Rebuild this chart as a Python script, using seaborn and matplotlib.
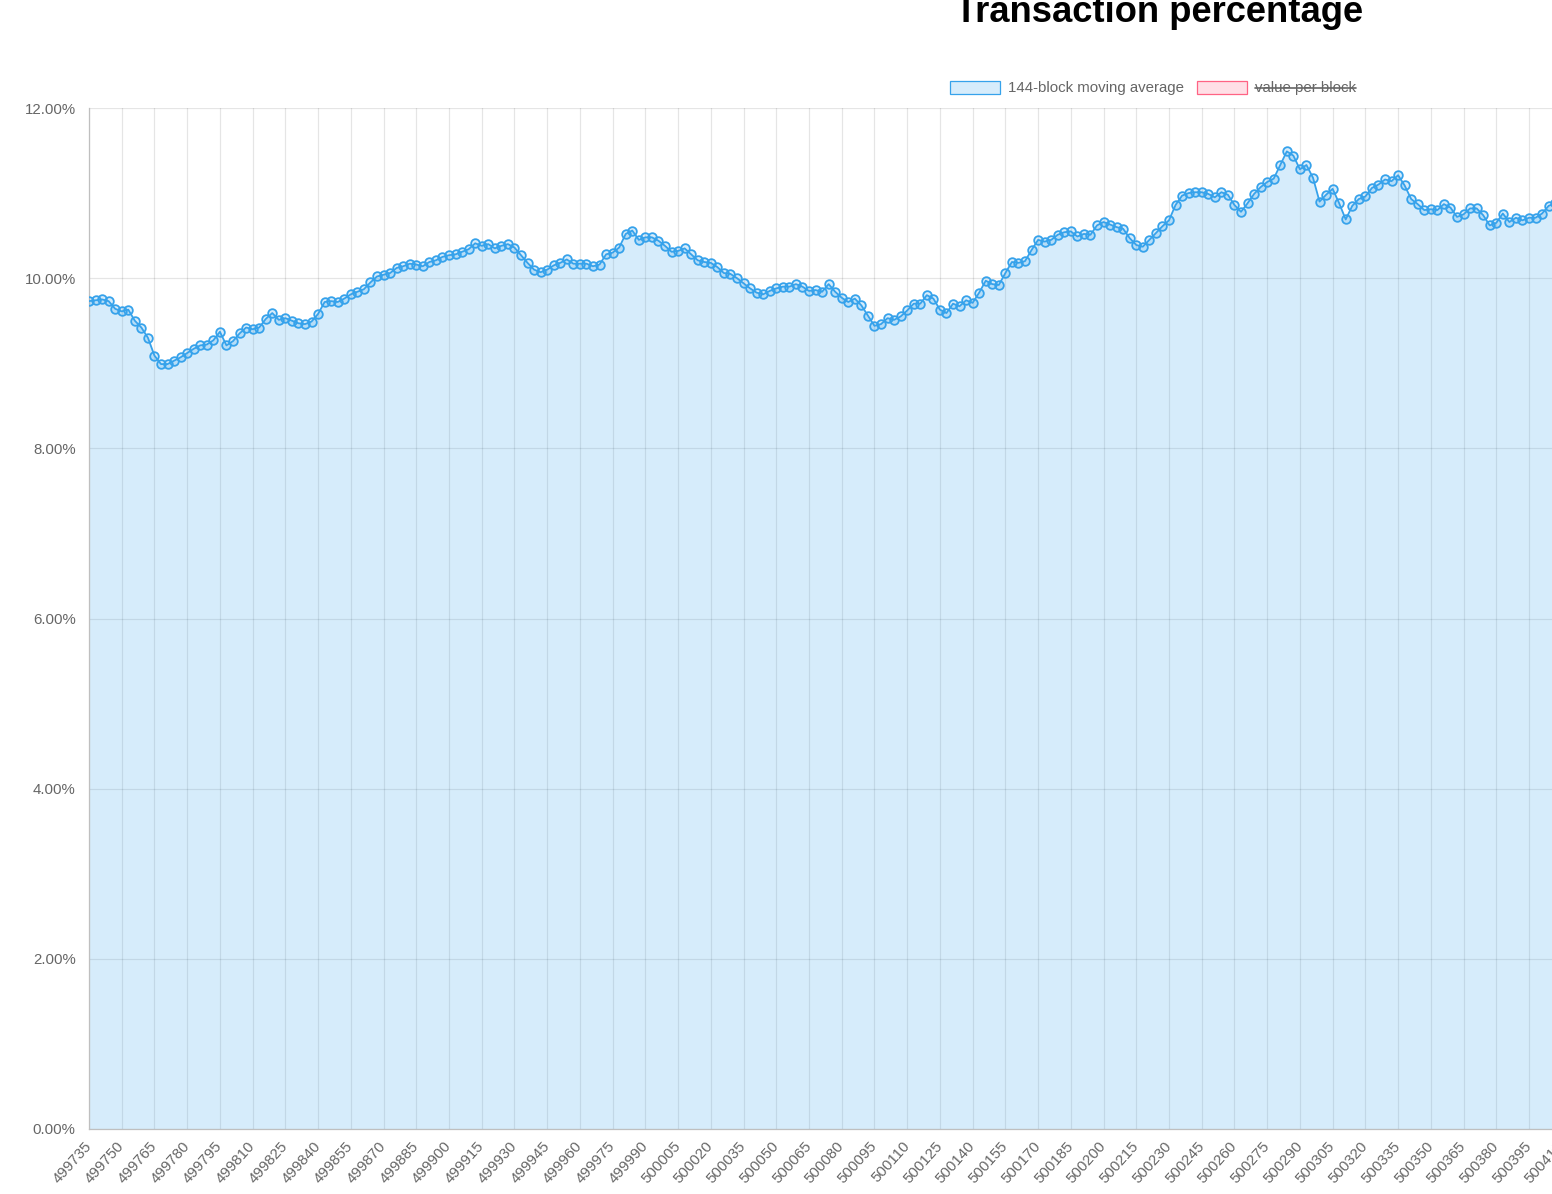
import matplotlib
matplotlib.use('Agg')
import matplotlib.pyplot as plt
import seaborn as sns
from matplotlib.patches import Patch
from matplotlib.lines import Line2D

# 144-block moving average of the transaction percentage, read every 3 blocks
start_block = 499735
block_step = 3
pct_values = [
    9.73, 9.74, 9.75, 9.73, 9.64, 9.61, 9.63, 9.50, 9.42, 9.30,
    9.09, 8.99, 8.99, 9.03, 9.07, 9.12, 9.17, 9.21, 9.22, 9.27,
    9.37, 9.21, 9.26, 9.35, 9.42, 9.40, 9.42, 9.52, 9.59, 9.51,
    9.53, 9.50, 9.47, 9.46, 9.49, 9.58, 9.72, 9.73, 9.72, 9.76,
    9.81, 9.84, 9.87, 9.95, 10.02, 10.04, 10.06, 10.12, 10.14, 10.17,
    10.16, 10.14, 10.19, 10.21, 10.25, 10.27, 10.28, 10.31, 10.34, 10.41,
    10.38, 10.40, 10.35, 10.38, 10.40, 10.36, 10.27, 10.18, 10.10, 10.07,
    10.10, 10.15, 10.18, 10.22, 10.17, 10.17, 10.17, 10.14, 10.16, 10.28,
    10.30, 10.36, 10.52, 10.56, 10.45, 10.48, 10.48, 10.44, 10.38, 10.31,
    10.32, 10.35, 10.28, 10.21, 10.19, 10.18, 10.13, 10.06, 10.05, 10.00,
    9.94, 9.88, 9.83, 9.81, 9.85, 9.88, 9.90, 9.90, 9.93, 9.90,
    9.85, 9.86, 9.84, 9.93, 9.84, 9.77, 9.72, 9.76, 9.68, 9.56,
    9.44, 9.46, 9.53, 9.51, 9.55, 9.62, 9.70, 9.70, 9.80, 9.76,
    9.63, 9.59, 9.70, 9.67, 9.74, 9.71, 9.83, 9.97, 9.93, 9.92,
    10.06, 10.19, 10.18, 10.20, 10.33, 10.45, 10.43, 10.45, 10.51, 10.54,
    10.55, 10.49, 10.52, 10.51, 10.62, 10.66, 10.63, 10.60, 10.58, 10.47,
    10.39, 10.37, 10.45, 10.53, 10.61, 10.68, 10.86, 10.97, 11.00, 11.01,
    11.01, 10.99, 10.95, 11.01, 10.98, 10.86, 10.78, 10.88, 10.99, 11.07,
    11.13, 11.17, 11.33, 11.49, 11.44, 11.28, 11.33, 11.18, 10.90, 10.98,
    11.05, 10.88, 10.69, 10.85, 10.93, 10.96, 11.06, 11.10, 11.16, 11.14,
    11.21, 11.09, 10.93, 10.87, 10.80, 10.81, 10.80, 10.87, 10.83, 10.72,
    10.75, 10.82, 10.82, 10.74, 10.62, 10.65, 10.76, 10.66, 10.71, 10.68,
    10.71, 10.71, 10.76, 10.85, 10.88, 10.90,
]
blocks = [start_block + i * block_step for i in range(len(pct_values))]

tick_blocks = list(range(499735, 500411, 15))
tick_labels = [str(b) for b in tick_blocks]
y_ticks = [0, 2, 4, 6, 8, 10, 12]
y_labels = ['%.2f%%' % v for v in y_ticks]

legend_labels = ['144-block moving average', 'value per block']
title = 'Transaction percentage'

BLUE = '#36A2EB'
BLUE_FILL = (54 / 255, 162 / 255, 235 / 255, 0.2)
RED = '#FF6384'
RED_FILL = (1.0, 99 / 255, 132 / 255, 0.2)
TXT = '#666666'

sns.set_style('white')
plt.rcParams['font.family'] = ['Liberation Sans', 'DejaVu Sans']

W, H = 1552, 1194
fig = plt.figure(figsize=(W / 100, H / 100), dpi=100)

# plot area: left 89px, 0% at y=1129, 12% at y=108; runs past the right edge
px_per_block = 1440 / 660
x_max = 500430
left, right = 89, 89 + (x_max - start_block) * px_per_block
ax = fig.add_axes([left / W, (H - 1129) / H, (right - left) / W, (1129 - 108) / H])

ax.fill_between(blocks, pct_values, 0, color=BLUE_FILL, linewidth=0, zorder=2)
sns.lineplot(x=blocks, y=pct_values, ax=ax, estimator=None, sort=False,
             color=BLUE, linewidth=1.3, marker='o', markersize=6.2,
             markerfacecolor=BLUE_FILL, markeredgecolor=BLUE,
             markeredgewidth=1.3, zorder=3)

ax.set_xlim(start_block, x_max)
ax.set_ylim(0, 12)
ax.set_xticks(tick_blocks)
ax.set_xticklabels(tick_labels, rotation=48, ha='right', va='center',
                   rotation_mode='anchor')
ax.set_yticks(y_ticks)
ax.set_yticklabels(y_labels)
ax.grid(True, color='black', alpha=0.1, linewidth=0.9)
ax.set_axisbelow(True)
ax.tick_params(axis='both', length=8.6, width=0.9, color='#e6e6e6',
               labelcolor=TXT, labelsize=10.8)
ax.tick_params(axis='x', pad=2)
ax.tick_params(axis='y', pad=1)
ax.set_xlabel('')
ax.set_ylabel('')
for s in ['top', 'right']:
    ax.spines[s].set_visible(False)
for s in ['left', 'bottom']:
    ax.spines[s].set_color('#bfbfbf')
    ax.spines[s].set_linewidth(0.9)

fig.text(1159 / W, 1 - 22 / H, title, ha='center', va='baseline',
         fontsize=26.2, fontweight='bold', color='black')

handles = [Patch(facecolor=BLUE_FILL, edgecolor=BLUE, linewidth=0.9),
           Patch(facecolor=RED_FILL, edgecolor=RED, linewidth=0.9)]
leg = fig.legend(handles, legend_labels, loc='center', ncol=2,
                 bbox_to_anchor=(1153 / W, 1 - 88 / H), frameon=False,
                 fontsize=10.8, handlelength=3.33, handleheight=1.0,
                 handletextpad=0.5, columnspacing=0.9, borderpad=0)
for t in leg.get_texts():
    t.set_color(TXT)

# hidden dataset: strike through its label
fig.canvas.draw()
bb = leg.get_texts()[1].get_window_extent()
inv = fig.transFigure.inverted()
(x0, y0), (x1, y1) = inv.transform([(bb.x0, (bb.y0 + bb.y1) / 2), (bb.x1, (bb.y0 + bb.y1) / 2)])
fig.add_artist(Line2D([x0, x1], [y0, y1], transform=fig.transFigure,
                      color=TXT, linewidth=1.2))

fig.savefig('out.png', dpi=100)
